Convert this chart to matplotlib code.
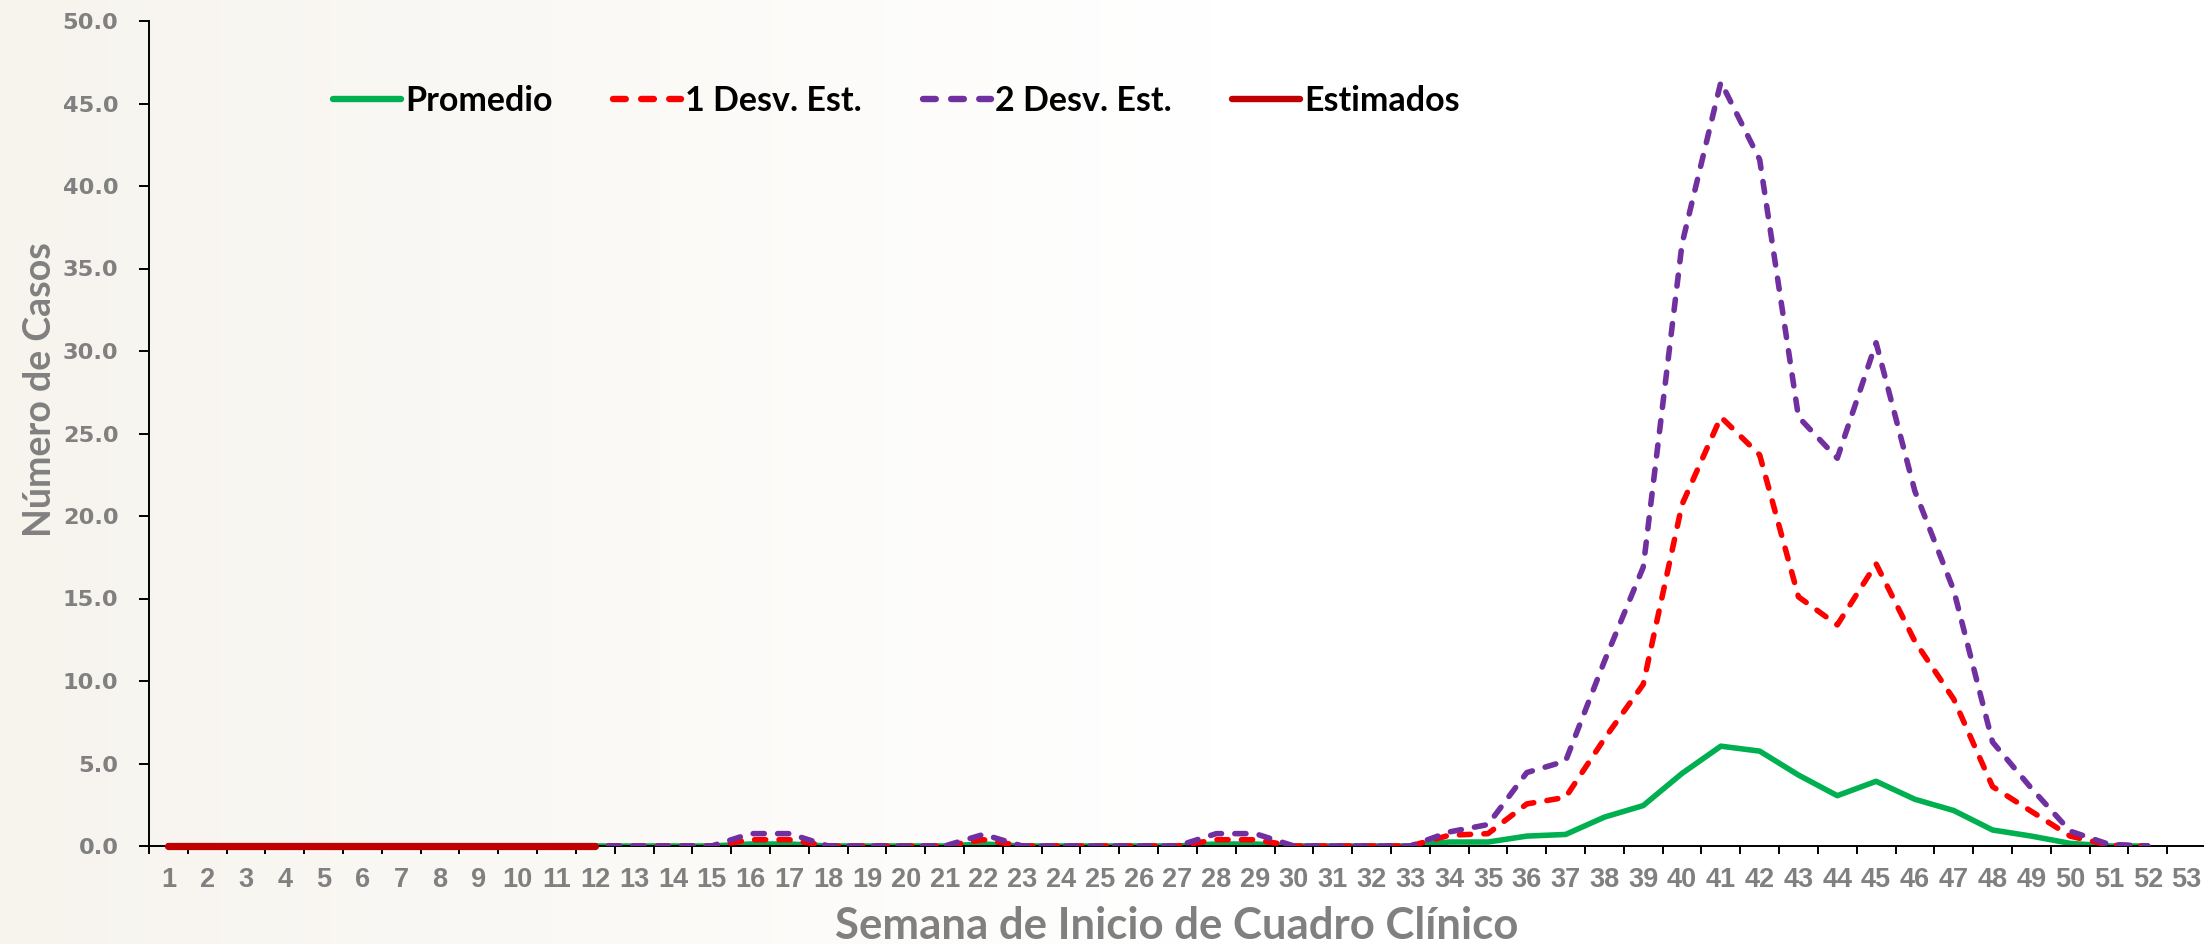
import numpy as np
from matplotlib import pyplot as plt
from matplotlib.ticker import FixedLocator, FormatStrFormatter

weeks = list(range(1, 53))
week_labels = [str(w) for w in range(1, 54)]

promedio = [0, 0, 0, 0, 0, 0, 0, 0, 0, 0, 0, 0, 0, 0, 0, 0.12, 0.12, 0, 0, 0,
            0, 0.12, 0, 0, 0, 0, 0, 0.12, 0.12, 0, 0, 0, 0, 0.24, 0.24, 0.6,
            0.7, 1.75, 2.45, 4.4, 6.05, 5.75, 4.3, 3.05, 3.92, 2.83, 2.15,
            0.97, 0.6, 0.16, 0, 0]
desv_1 = [0, 0, 0, 0, 0, 0, 0, 0, 0, 0, 0, 0, 0, 0, 0, 0.38, 0.38, 0, 0, 0,
          0, 0.38, 0, 0, 0, 0, 0, 0.38, 0.38, 0, 0, 0, 0, 0.65, 0.75, 2.55,
          2.95, 6.5, 9.8, 20.7, 26.0, 23.7, 15.1, 13.4, 17.1, 12.4, 8.9,
          3.6, 2.1, 0.6, 0.05, 0]
desv_2 = [0, 0, 0, 0, 0, 0, 0, 0, 0, 0, 0, 0, 0, 0, 0, 0.75, 0.75, 0, 0, 0,
          0, 0.7, 0, 0, 0, 0, 0, 0.75, 0.75, 0, 0, 0, 0, 0.85, 1.3, 4.45,
          5.15, 11.2, 16.9, 36.5, 46.3, 41.6, 26.0, 23.5, 30.5, 21.5, 15.5,
          6.3, 3.5, 0.9, 0.1, 0]
est_weeks = list(range(1, 13))
estimados = [0] * 12

GRAY = "#808080"
W, H = 2204, 944

fig = plt.figure(figsize=(W / 100, H / 100), dpi=100)

# faint watermark-like tint on the left side
bg = fig.add_axes([0, 0, 1, 1], zorder=-10)
grad = np.clip(1 - np.linspace(0, 1, 400) / 0.55, 0, 1)
rgb = np.ones((1, 400, 3))
tint = np.array([247, 244, 238]) / 255.0
rgb[0] = 1 - grad[:, None] * (1 - tint)
bg.imshow(rgb, aspect="auto", extent=[0, 1, 0, 1])
bg.axis("off")

ax = fig.add_axes([149 / W, 1 - 846 / H, (2206 - 149) / W, (846 - 21) / H])
ax.patch.set_alpha(0)

dash = (2.0, 2.4)
ax.plot(weeks, promedio, color="#00B050", lw=4.0, solid_capstyle="round",
        label="Promedio", zorder=2)
ax.plot(weeks, desv_1, color="#FF0000", lw=4.0, dashes=dash,
        dash_capstyle="round", label="1 Desv. Est.", zorder=3)
ax.plot(weeks, desv_2, color="#7030A0", lw=4.0, dashes=dash,
        dash_capstyle="round", label="2 Desv. Est.", zorder=4)
ax.plot(est_weeks, estimados, color="#C00000", lw=5.2,
        solid_capstyle="round", label="Estimados", zorder=5, clip_on=False)

ax.set_xlim(0.5, 53.5)
ax.set_ylim(0, 50)
ax.spines["top"].set_visible(False)
ax.spines["right"].set_visible(False)
ax.spines["left"].set_linewidth(1.4)
ax.spines["bottom"].set_linewidth(1.4)

ax.set_yticks(np.arange(0, 50.1, 5))
ax.yaxis.set_major_formatter(FormatStrFormatter("%.1f"))
ax.tick_params(axis="y", length=7, width=1.4, pad=15, labelcolor=GRAY)
for t in ax.get_yticklabels():
    t.set_fontfamily("DejaVu Sans")
    t.set_fontweight("bold")
    t.set_fontsize(16.2)

ax.set_xticks(range(1, 54))
ax.set_xticklabels(week_labels, fontsize=19.5, fontweight="bold",
                   color=GRAY, family=["Liberation Sans Narrow", "Liberation Sans"])
ax.xaxis.set_minor_locator(FixedLocator(np.arange(0.5, 53.6, 1)))
ax.tick_params(axis="x", which="major", length=0, pad=15)
ax.tick_params(axis="x", which="minor", length=5.5, width=1.4)

fig.text((149 + 2204) / 2 / W, 1 - 926 / H, "Semana de Inicio de Cuadro Clínico",
         ha="center", va="center", fontsize=31.5, fontweight="bold",
         color=GRAY, family="Lato")
fig.text(40 / W, 1 - 390 / H, "Número de Casos", rotation=90,
         ha="center", va="center", fontsize=27, fontweight="bold",
         color=GRAY, family="Lato")

leg = fig.legend(loc="center left", bbox_to_anchor=(333 / W, 1 - 101 / H),
                 ncol=4, frameon=False, borderpad=0, borderaxespad=0,
                 handlelength=2.0, handletextpad=0.12, columnspacing=1.78,
                 prop={"family": "Lato", "weight": "bold", "size": 24.5})
for line in leg.get_lines():
    line.set_linewidth(4.6)

fig.savefig("out.png", dpi=100)
